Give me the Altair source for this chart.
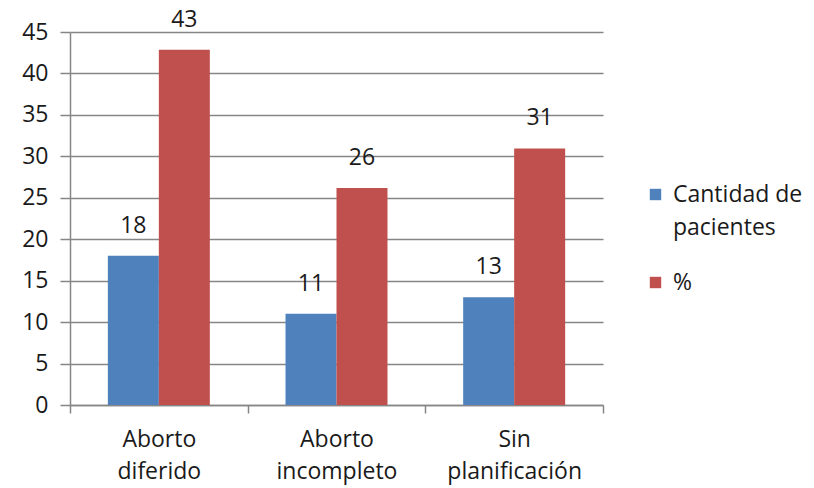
import altair as alt
import pandas as pd

categories = ["Aborto diferido", "Aborto incompleto", "Sin planificación"]
series = ["Cantidad de pacientes", "%"]
cantidad = [18, 11, 13]
porcentaje = [42.86, 26.19, 30.95]

rows = []
for i, c in enumerate(categories):
    rows.append({"cat": c, "serie": series[0], "valor": cantidad[i]})
    rows.append({"cat": c, "serie": series[1], "valor": porcentaje[i]})
df = pd.DataFrame(rows)

FONT = "Open Sans"
FS = 23
TXT = "#1a1a1a"
GRID = "#868686"

x = alt.X("cat:N", sort=categories, title=None,
          scale=alt.Scale(paddingInner=0, paddingOuter=0),
          axis=alt.Axis(labelAngle=0, tickBand="extent", domainColor=GRID,
                        tickColor=GRID, tickSize=8, tickWidth=1.5, domainWidth=1.5,
                        labelFont=FONT, labelFontSize=FS, labelColor=TXT,
                        labelPadding=15, labelLineHeight=32,
                        labelExpr="split(datum.label, ' ')", grid=False))
y = alt.Y("valor:Q", title=None,
          scale=alt.Scale(domain=[0, 45], nice=False),
          axis=alt.Axis(values=list(range(0, 46, 5)), domainColor=GRID,
                        tickColor=GRID, tickSize=10, tickWidth=1.5, domainWidth=1.5,
                        gridColor=GRID, gridWidth=1.5,
                        labelFont=FONT, labelFontSize=FS, labelColor=TXT,
                        labelPadding=12))
xo = alt.XOffset("serie:N", sort=series,
                 scale=alt.Scale(paddingInner=0, paddingOuter=0.742))
color = alt.Color("serie:N", sort=series,
                  scale=alt.Scale(domain=series, range=["#4F81BD", "#C0504D"]),
                  legend=alt.Legend(title=None, orient="none", legendX=574, legendY=151,
                                    symbolType="square", symbolSize=130, symbolStrokeWidth=0,
                                    labelFont=FONT, labelFontSize=FS, labelColor=TXT,
                                    labelOffset=6, labelLimit=300, rowPadding=31,
                                    labelExpr="datum.label == 'Cantidad de pacientes' ? ['Cantidad de', 'pacientes'] : datum.label"))

bars = alt.Chart(df).mark_bar().encode(x=x, xOffset=xo, y=y, color=color)

labels = alt.Chart(df).mark_text(baseline="bottom", dy=-18, font=FONT, fontSize=FS,
                                 color=TXT).encode(
    x=x, xOffset=xo, y=y,
    text=alt.Text("valor:Q", format=".0f"),
)

chart = (bars + labels).properties(
    width=533, height=373,
    autosize=alt.AutoSizeParams(type="none"),
    padding={"left": 70, "top": 32, "right": 211, "bottom": 83},
).configure(
    background="white",
    style={"guide-label": {"lineHeight": 33}, "cell": {"stroke": "transparent", "strokeWidth": 0}},
).configure_view(stroke="transparent", strokeWidth=0)

chart.save("out.html", embed_options={"renderer": "svg", "actions": False})
